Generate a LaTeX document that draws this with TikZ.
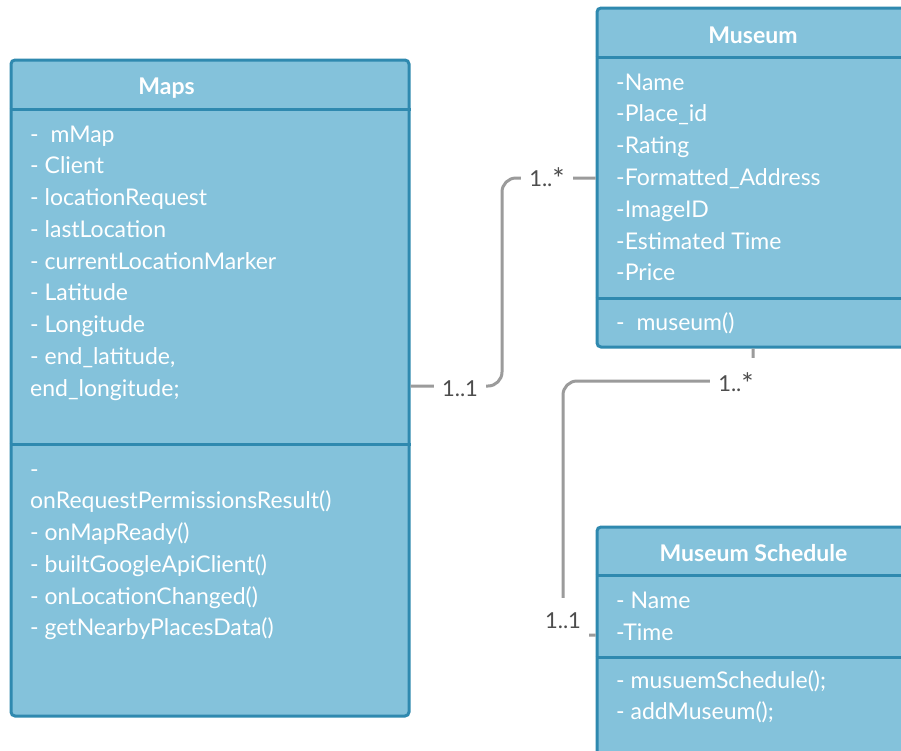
\documentclass[tikz,border=0pt]{standalone}
\usepackage{fontspec}
\setmainfont{Lato}
\definecolor{umlfill}{HTML}{84C2DB}
\definecolor{umledge}{HTML}{2F89AF}
\definecolor{linkgray}{HTML}{9B9B9B}
\definecolor{labelgray}{HTML}{4D4D4D}
% larger multiplicity star
\newcommand{\manystar}{\raisebox{-3pt}{\fontsize{29}{29}\selectfont *}}
\begin{document}
\begin{tikzpicture}[x=1pt,y=-1pt,
  classbox/.style={draw=umledge, fill=umlfill, line width=3pt, rounded corners=4pt, inner sep=0pt},
  divider/.style={draw=umledge, line width=3pt},
  title/.style={text=white, font=\bfseries\fontsize{23}{27}\selectfont, anchor=base, inner sep=0pt},
  member/.style={text=white, font=\fontsize{23}{27}\selectfont, anchor=base west, inner sep=0pt},
  conn/.style={draw=linkgray, line width=3pt, rounded corners=14pt},
  mult/.style={text=labelgray, fill=white, font=\fontsize{22}{26}\selectfont, anchor=base, inner xsep=8pt, inner ysep=14pt}]
\clip (0,0) rectangle (901,750);
\fill[white] (0,0) rectangle (901,750);

% class boxes
\node[classbox, minimum width=398pt, minimum height=656pt] (maps) at (210,388) {};
\node[classbox, minimum width=312pt, minimum height=339pt] (museum) at (753,177.5) {};
\node[classbox, minimum width=312pt, minimum height=233pt] (sched) at (753,643.5) {};

% compartment dividers
\coordinate (mapsD1) at (0,109);
\coordinate (mapsD2) at (0,444);
\coordinate (musD1) at (0,57);
\coordinate (musD2) at (0,298);
\coordinate (schD1) at (0,575);
\coordinate (schD2) at (0,657);
\draw[divider] (maps.west |- mapsD1) -- (maps.east |- mapsD1);
\draw[divider] (maps.west |- mapsD2) -- (maps.east |- mapsD2);
\draw[divider] (museum.west |- musD1) -- (museum.east |- musD1);
\draw[divider] (museum.west |- musD2) -- (museum.east |- musD2);
\draw[divider] (sched.west |- schD1) -- (sched.east |- schD1);
\draw[divider] (sched.west |- schD2) -- (sched.east |- schD2);

% titles
\node[title] (maps-title) at (166.5,94) {Maps};
\node[title] (museum-title) at (753,43) {Museum};
\node[title] (sched-title) at (753.5,561) {Museum Schedule};

% Maps members
\foreach \t [count=\i from 0] in {{-\ \ mMap}, {- Client}, {- locationRequest}, {- lastLocation},
    {- currentLocationMarker}, {- Latitude}, {- Longitude}, {- end\_latitude,}, {end\_longitude;}}
  \node[member] (maps-attr-\i) at (30,142+31.75*\i) {\t};
\foreach \t [count=\i from 0] in {{-}, {onRequestPermissionsResult()}, {- onMapReady()},
    {- builtGoogleApiClient()}, {- onLocationChanged()}, {- getNearbyPlacesData()}}
  \node[member] (maps-op-\i) at (30,477+31.75*\i) {\t};

% Museum members
\foreach \t [count=\i from 0] in {{-Name}, {-Place\_id}, {-Rating}, {-Formatted\_Address},
    {-ImageID}, {-Estimated Time}, {-Price}}
  \node[member] (museum-attr-\i) at (616,90+31.8*\i) {\t};
\node[member] (museum-op-0) at (616,330) {-\ \ museum()};

% Museum Schedule members
\node[member] (sched-attr-0) at (616,608) {- Name};
\node[member] (sched-attr-1) at (616,640) {-Time};
\node[member] (sched-op-0) at (616,688) {- musuemSchedule();};
\node[member] (sched-op-1) at (616,719) {- addMuseum();};

% associations
\coordinate (a1) at (502,386);
\coordinate (a2) at (502,178);
\draw[conn] (maps.east |- a1) -- (a1) -- (a2) -- (museum.west |- a2);
\node[mult] (m1) at (460,396) {1..1};
\node[mult] (m2) at (547,186) {1..\manystar};

\coordinate (b1) at (563,381);
\coordinate (b2) at (563,635);
\draw[conn] (museum.south) -- (museum.south |- b1) -- (b1) -- (b2) -- (sched.west |- b2);
\node[mult] (m3) at (736,391) {1..\manystar};
\node[mult] (m4) at (563,628) {1..1};
\end{tikzpicture}
\end{document}
